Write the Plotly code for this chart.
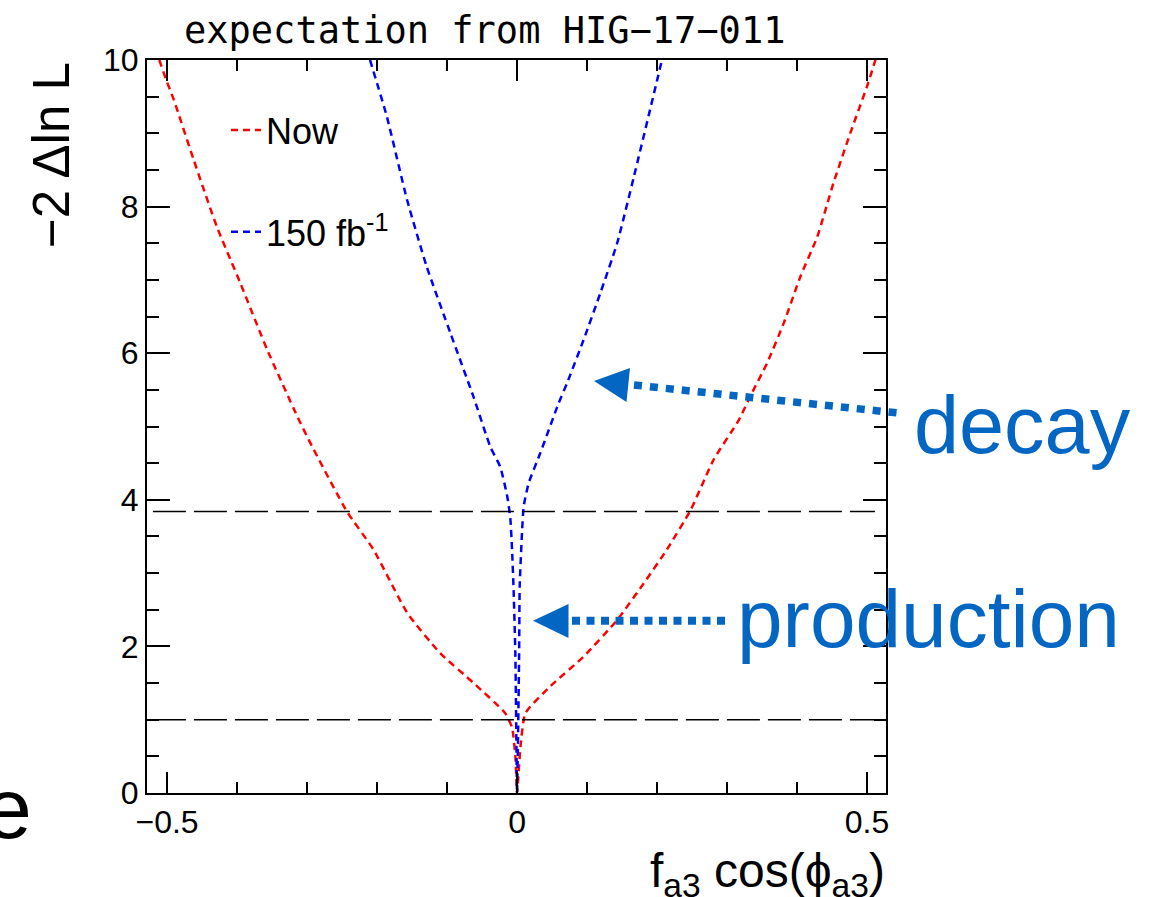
import plotly.graph_objects as go

# Expected -2 Delta lnL scans versus f_a3 cos(phi_a3)
now_x = [-0.511, -0.502, -0.490, -0.462, -0.429, -0.395, -0.357, -0.314, -0.295,
         -0.243, -0.205, -0.157, -0.110, -0.062, -0.017, -0.007, -0.002, 0.0,
         0.005, 0.012, 0.048, 0.095, 0.143, 0.181, 0.214, 0.248, 0.281, 0.317,
         0.333, 0.357, 0.381, 0.405, 0.429, 0.452, 0.476, 0.500, 0.512]
now_y = [10.0, 9.75, 9.45, 8.64, 7.73, 6.95, 6.05, 5.14, 4.77,
         3.84, 3.32, 2.46, 1.91, 1.50, 1.09, 0.89, 0.45, 0.0,
         0.64, 1.09, 1.46, 1.86, 2.36, 2.86, 3.32, 3.86, 4.55, 5.09,
         5.41, 5.86, 6.41, 7.05, 7.59, 8.32, 9.00, 9.64, 10.0]

lumi_x = [-0.210, -0.186, -0.157, -0.129, -0.095, -0.062, -0.038, -0.024, -0.014,
          -0.0096, -0.0071, -0.0048, -0.0024, -0.001, 0.0,
          0.0015, 0.003, 0.0038, 0.0071, 0.0095, 0.0167, 0.0333, 0.0595, 0.0714,
          0.095, 0.119, 0.143, 0.167, 0.190, 0.207]
lumi_y = [10.0, 9.23, 8.09, 7.18, 6.27, 5.40, 4.72, 4.45, 4.05,
          3.75, 3.32, 2.75, 1.90, 0.80, 0.0,
          0.80, 1.90, 2.82, 3.55, 3.91, 4.23, 4.64, 5.32, 5.59,
          6.18, 6.82, 7.50, 8.41, 9.32, 10.0]

cl_levels = [1.0, 3.84]

x_tickvals = [-0.5, 0.0, 0.5]
x_ticktext = ["\u22120.5", "0", "0.5"]
y_tickvals = [0, 2, 4, 6, 8, 10]

W, H = 1154, 897
ML, MR, MT, MB = 147, 268, 60, 104
PL, PR, PT, PB = ML, W - MR, MT, H - MB


def px(xp):
    return (xp - PL) / (PR - PL)


def py(yp):
    return (PB - yp) / (PB - PT)


FONT = "Liberation Sans, Arial, Helvetica, sans-serif"
BLUE_TXT = "#0466c3"

fig = go.Figure()
fig.add_trace(go.Scatter(x=now_x, y=now_y, mode="lines", name="Now",
                         legendgroup="a",
                         line=dict(color="#ff0000", width=2.5, dash="7px,5px",
                                   shape="spline", smoothing=0.5)))
fig.add_trace(go.Scatter(x=lumi_x, y=lumi_y, mode="lines", name="150 fb<sup>-1</sup>",
                         legendgroup="b",
                         line=dict(color="#0000ff", width=2.5, dash="7px,5px",
                                   shape="spline", smoothing=0.5)))

shapes = []
for lv in cl_levels:
    shapes.append(dict(type="line", xref="paper", yref="y", x0=0.008, x1=0.985,
                       y0=lv, y1=lv, line=dict(color="black", width=1.6, dash="33px,8px")))

# decay arrow
shapes.append(dict(type="line", xref="paper", yref="paper",
                   x0=px(634), y0=py(385), x1=px(898), y1=py(413),
                   line=dict(color=BLUE_TXT, width=7.5, dash="8px,8px")))
shapes.append(dict(type="path", xref="paper", yref="paper",
                   path="M {} {} L {} {} L {} {} Z".format(px(594), py(381), px(630), py(368),
                                                           px(626.5), py(402)),
                   fillcolor=BLUE_TXT, line=dict(width=0)))
# production arrow
shapes.append(dict(type="line", xref="paper", yref="paper",
                   x0=px(572), y0=py(620.7), x1=px(725), y1=py(620.7),
                   line=dict(color=BLUE_TXT, width=8, dash="8px,6.5px")))
shapes.append(dict(type="path", xref="paper", yref="paper",
                   path="M {} {} L {} {} L {} {} Z".format(px(533), py(620.7), px(568.5), py(604),
                                                           px(568.5), py(638)),
                   fillcolor=BLUE_TXT, line=dict(width=0)))

annotations = [
    dict(text="expectation from HIG\u221217\u2212011", xref="paper", yref="paper",
         x=px(484), y=py(30), xanchor="center", yanchor="middle", showarrow=False,
         font=dict(family="DejaVu Sans Mono, monospace", size=37, color="black")),
    dict(text="\u22122 \u0394ln L", xref="paper", yref="paper", textangle=-90,
         x=px(51), y=py(60), xanchor="center", yanchor="top", showarrow=False,
         font=dict(family=FONT, size=51, color="black")),
    dict(text="f<sub>a3</sub> cos(\u03d5<sub>a3</sub>)", xref="paper", yref="paper",
         x=px(887), y=py(874), xanchor="right", yanchor="middle", showarrow=False,
         font=dict(family=FONT, size=48, color="black")),
    dict(text="decay", xref="paper", yref="paper", x=px(912), y=py(425),
         xanchor="left", yanchor="middle", showarrow=False,
         font=dict(family=FONT, size=81, color=BLUE_TXT)),
    dict(text="production", xref="paper", yref="paper", x=px(735), y=py(618),
         xanchor="left", yanchor="middle", showarrow=False,
         font=dict(family=FONT, size=82, color=BLUE_TXT)),
    dict(text="e", xref="paper", yref="paper", x=px(34), y=py(808),
         xanchor="right", yanchor="middle", showarrow=False,
         font=dict(family=FONT, size=86, color="black")),
]

axis_common = dict(showline=True, linecolor="black", linewidth=2, mirror="ticks",
                   ticks="inside", tickcolor="black", tickwidth=1.5,
                   showgrid=False, zeroline=False,
                   tickfont=dict(family=FONT, size=32, color="black"))

fig.update_layout(
    width=W, height=H,
    margin=dict(l=ML, r=MR, t=MT, b=MB, pad=0),
    paper_bgcolor="white", plot_bgcolor="white",
    font=dict(family=FONT, color="black"),
    xaxis=dict(range=[-0.5286, 0.5271], tickvals=x_tickvals, ticktext=x_ticktext,
               ticklen=21, minor=dict(ticks="inside", ticklen=11, dtick=0.1, tick0=0,
                                      tickcolor="black", tickwidth=1.5, showgrid=False),
               **axis_common),
    yaxis=dict(range=[0, 10], tickvals=y_tickvals, ticklen=23,
               minor=dict(ticks="inside", ticklen=12, dtick=0.5, tick0=0,
                          tickcolor="black", tickwidth=1.5, showgrid=False),
               **axis_common),
    showlegend=True,
    legend=dict(x=px(226), y=py(100), xanchor="left", yanchor="top",
                bgcolor="rgba(0,0,0,0)", borderwidth=0, tracegroupgap=52,
                font=dict(family=FONT, size=36, color="black")),
    shapes=shapes,
    annotations=annotations,
)

fig.write_html("out.html")
